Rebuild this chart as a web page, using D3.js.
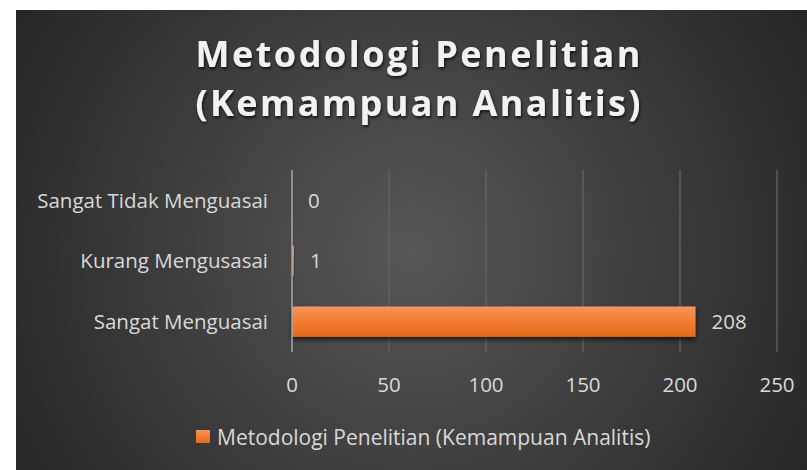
<!DOCTYPE html>
<html>
<head>
<meta charset="utf-8">
<script src="https://cdn.jsdelivr.net/npm/d3@7"></script>
<style>
  body { margin: 0; background: #ffffff; }
  svg { display: block; }
</style>
</head>
<body>
<div id="chart"></div>
<script>
"use strict";

const titleLines = ["Metodologi Penelitian", "(Kemampuan Analitis)"];
const seriesName = "Metodologi Penelitian (Kemampuan Analitis)";
const categories = ["Sangat Tidak Menguasai", "Kurang Mengusasai", "Sangat Menguasai"];
const values = [0, 1, 208];
const xTicks = [0, 50, 100, 150, 200, 250];

function drawBackground(svg, width, height) {
    /* dark radial fill like the office "style" chart */
    var defs = svg.append("defs");

    var bg = defs.append("radialGradient")
        .attr("id", "bgGrad")
        .attr("gradientUnits", "userSpaceOnUse")
        .attr("cx", 410).attr("cy", 250).attr("r", 460);
    bg.append("stop").attr("offset", 0).attr("stop-color", "#575757");
    bg.append("stop").attr("offset", 1).attr("stop-color", "#262626");

    var bar = defs.append("linearGradient")
        .attr("id", "barGrad")
        .attr("x1", 0).attr("y1", 0).attr("x2", 0).attr("y2", 1);
    bar.append("stop").attr("offset", 0).attr("stop-color", "#f4965f");
    bar.append("stop").attr("offset", 0.5).attr("stop-color", "#f47c2f");
    bar.append("stop").attr("offset", 1).attr("stop-color", "#e26b1b");

    var sh = defs.append("filter").attr("id", "barShadow")
        .attr("x", "-10%").attr("y", "-30%").attr("width", "120%").attr("height", "180%");
    sh.append("feDropShadow")
        .attr("dx", 0).attr("dy", 3).attr("stdDeviation", 2.5)
        .attr("flood-color", "#000").attr("flood-opacity", 0.65);

    var ts = defs.append("filter").attr("id", "titleShadow")
        .attr("x", "-5%").attr("y", "-20%").attr("width", "110%").attr("height", "150%");
    ts.append("feDropShadow")
        .attr("dx", 1).attr("dy", 2).attr("stdDeviation", 1.5)
        .attr("flood-color", "#000").attr("flood-opacity", 0.7);

    svg.append("rect")
        .attr("x", 16).attr("y", 10)
        .attr("width", width - 16).attr("height", height - 10)
        .attr("fill", "url(#bgGrad)");
}

function drawTitle(svg) {
    var lineY = [67, 116];
    svg.selectAll("text.title")
        .data(titleLines)
        .enter()
        .append("text")
        .attr("class", "title")
        .attr("x", 418)
        .attr("y", (d, i) => lineY[i])
        .attr("text-anchor", "middle")
        .attr("font-family", "'Open Sans', sans-serif")
        .attr("font-weight", "bold")
        .attr("font-size", 36)
        .attr("textLength", 445)
        .attr("lengthAdjust", "spacing")
        .attr("fill", "#f2f2f2")
        .attr("filter", "url(#titleShadow)")
        .text(d => d);
}

function drawBars(svg) {
    var x = d3.scaleLinear().domain([0, 250]).range([292, 777]);
    var y = d3.scaleBand()
        .domain(categories)
        .range([170, 352])
        .paddingInner(0.5)
        .paddingOuter(0.25);

    var font = "'Open Sans', sans-serif";
    var fs = 20.5;

    // vertical gridlines
    svg.selectAll("line.grid")
        .data(xTicks.slice(1))
        .enter()
        .append("line")
        .attr("class", "grid")
        .attr("x1", d => x(d)).attr("x2", d => x(d))
        .attr("y1", 170).attr("y2", 352)
        .attr("stroke", "#666666")
        .attr("stroke-width", 1.25);

    // bars
    var rows = d3.zip(categories, values);
    svg.selectAll("rect.bar")
        .data(rows)
        .enter()
        .append("rect")
        .attr("class", "bar")
        .attr("x", x(0))
        .attr("y", d => y(d[0]))
        .attr("width", d => x(d[1]) - x(0))
        .attr("height", y.bandwidth())
        .attr("fill", "url(#barGrad)")
        .attr("filter", "url(#barShadow)");

    // category axis line
    svg.append("line")
        .attr("x1", x(0)).attr("x2", x(0))
        .attr("y1", 170).attr("y2", 352)
        .attr("stroke", "#a6a6a6")
        .attr("stroke-width", 1.5);

    // value labels
    svg.selectAll("text.value")
        .data(rows)
        .enter()
        .append("text")
        .attr("class", "value")
        .attr("x", d => x(d[1]) + 16)
        .attr("y", d => y(d[0]) + y.bandwidth() / 2)
        .attr("dy", "0.35em")
        .attr("font-family", font)
        .attr("font-size", fs)
        .attr("fill", "#d9d9d9")
        .text(d => d[1]);

    // category labels
    svg.selectAll("text.cat")
        .data(categories)
        .enter()
        .append("text")
        .attr("class", "cat")
        .attr("x", 268)
        .attr("y", d => y(d) + y.bandwidth() / 2)
        .attr("dy", "0.35em")
        .attr("text-anchor", "end")
        .attr("font-family", font)
        .attr("font-size", fs)
        .attr("fill", "#d9d9d9")
        .text(d => d);

    // x tick labels
    svg.selectAll("text.tick")
        .data(xTicks)
        .enter()
        .append("text")
        .attr("class", "tick")
        .attr("x", d => x(d))
        .attr("y", 392)
        .attr("text-anchor", "middle")
        .attr("font-family", font)
        .attr("font-size", fs)
        .attr("fill", "#d9d9d9")
        .text(d => d);
}

function drawLegend(svg) {
    var g = svg.append("g").attr("transform", "translate(196, 430)");
    g.append("rect")
        .attr("width", 14).attr("height", 13)
        .attr("fill", "url(#barGrad)");
    g.append("text")
        .attr("x", 21)
        .attr("y", 15)
        .attr("font-family", "'Open Sans', sans-serif")
        .attr("font-size", 21)
        .attr("fill", "#d9d9d9")
        .text(seriesName);
}

var width = 807, height = 470;
var svg = d3.select("#chart").append("svg")
    .attr("width", width)
    .attr("height", height);

drawBackground(svg, width, height);
drawTitle(svg);
drawBars(svg);
drawLegend(svg);
</script>
</body>
</html>
